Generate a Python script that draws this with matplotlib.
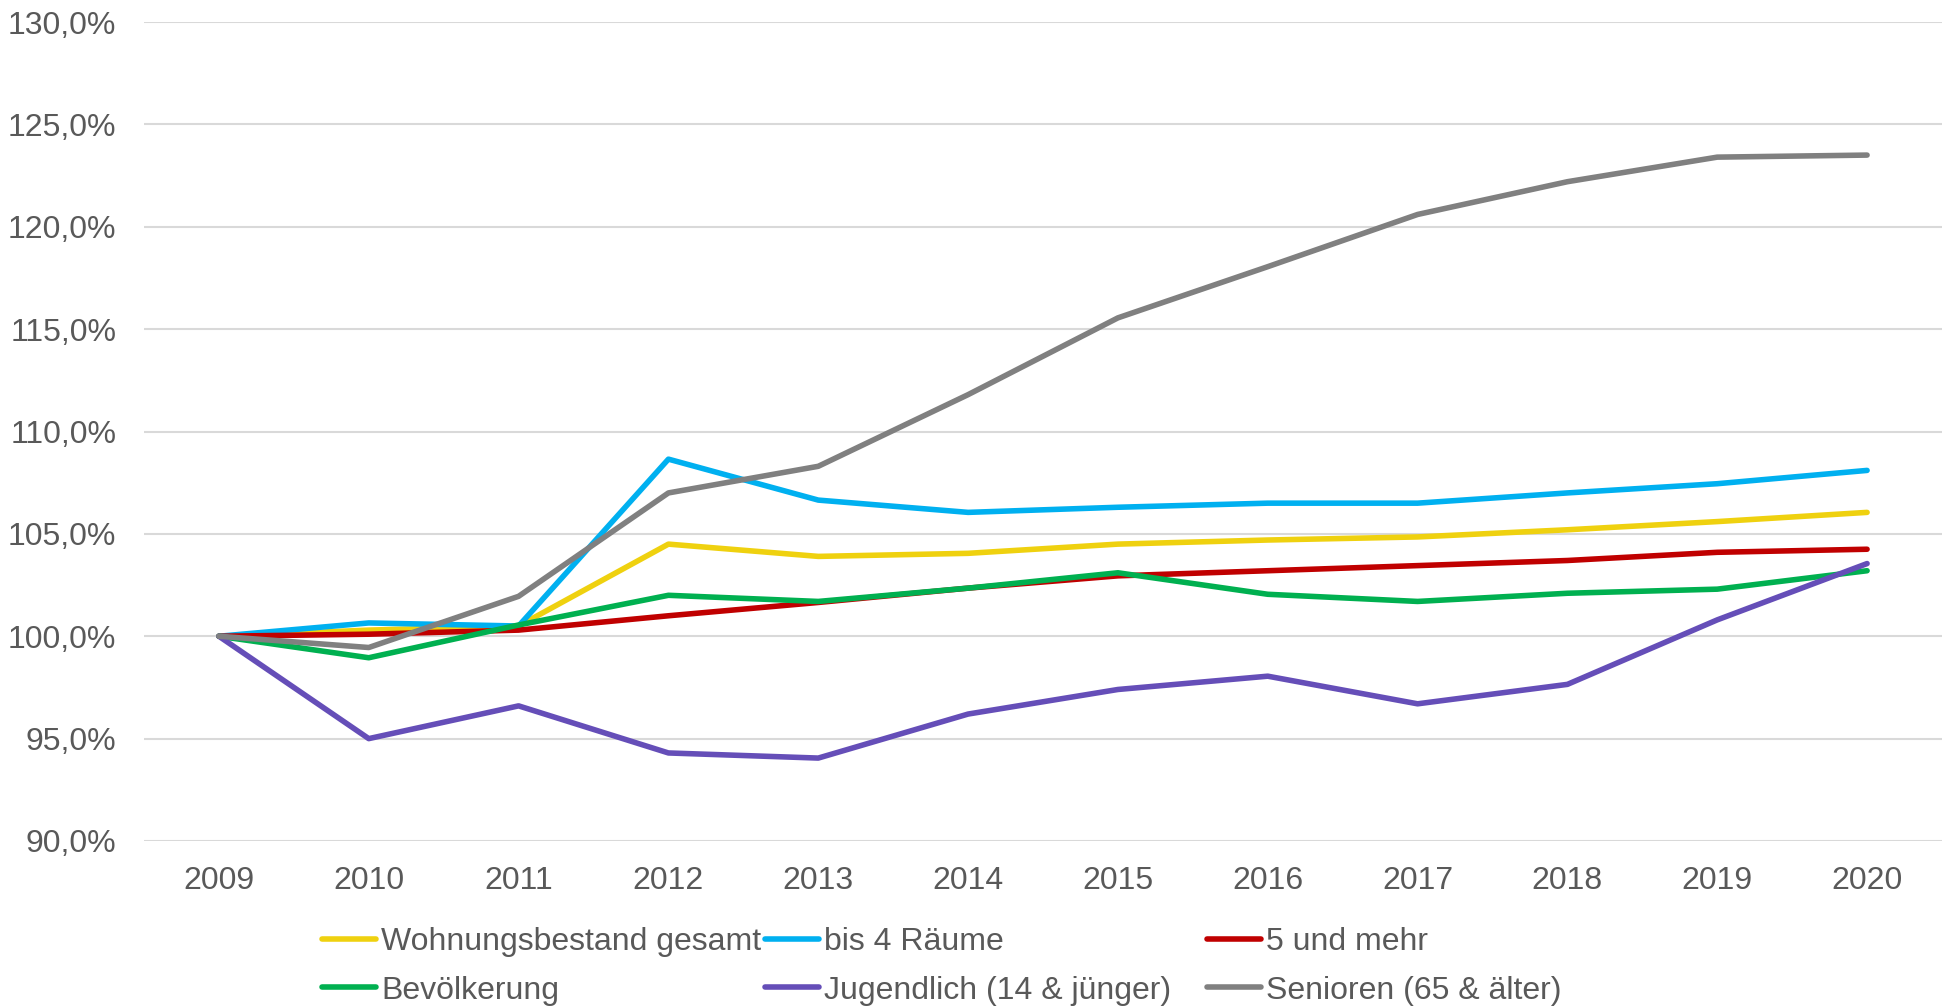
import numpy as np
import matplotlib.pyplot as plt
from matplotlib.ticker import FuncFormatter

plt.rcParams['font.family'] = ['Liberation Sans', 'DejaVu Sans']

#%% Data (index, 2009 = 100 %)
jahre = [2009, 2010, 2011, 2012, 2013, 2014, 2015, 2016, 2017, 2018, 2019, 2020]

wohnungsbestand = [100.0, 100.3, 100.5, 104.5, 103.9, 104.05, 104.5, 104.7, 104.85, 105.2, 105.6, 106.05]
bis_4_raeume = [100.0, 100.65, 100.5, 108.65, 106.65, 106.05, 106.3, 106.5, 106.5, 107.0, 107.45, 108.1]
fuenf_und_mehr = [100.0, 100.1, 100.3, 101.0, 101.65, 102.35, 102.95, 103.2, 103.45, 103.7, 104.1, 104.25]
bevoelkerung = [100.0, 98.95, 100.55, 102.0, 101.7, 102.35, 103.1, 102.05, 101.7, 102.1, 102.3, 103.2]
jugendlich = [100.0, 95.0, 96.6, 94.3, 94.05, 96.2, 97.4, 98.05, 96.7, 97.65, 100.8, 103.55]
senioren = [100.0, 99.45, 101.95, 107.0, 108.3, 111.8, 115.55, 118.05, 120.6, 122.2, 123.4, 123.5]

namen = ['Wohnungsbestand gesamt', 'bis 4 Räume', '5 und mehr',
         'Bevölkerung', 'Jugendlich (14 & jünger)', 'Senioren (65 & älter)']
reihen = [wohnungsbestand, bis_4_raeume, fuenf_und_mehr, bevoelkerung, jugendlich, senioren]
farben = ['#EFD10F', '#00B0F0', '#C00000', '#00B050', '#654EB8', '#808080']

#%% Plot
fs = 23
txt_col = '#595959'

fig = plt.figure(figsize=(19.46, 10.08), dpi=100)
ax = fig.add_axes([144/1946, 1 - 841/1008, 1798/1946, 819/1008])

handles = []
for werte, name, c in zip(reihen, namen, farben):
    h, = ax.plot(jahre, werte, color=c, lw=4.0, label=name,
                 solid_capstyle='round', solid_joinstyle='round')
    handles.append(h)

ax.set_xlim(2008.5, 2020.5)
ax.set_ylim(90, 130)
ax.set_xticks(jahre)
ax.set_yticks(np.arange(90, 131, 5))
ax.yaxis.set_major_formatter(FuncFormatter(lambda v, p: '{:.1f}%'.format(v).replace('.', ',')))

ax.grid(axis='y', color='#D9D9D9', lw=1.5)
ax.set_axisbelow(True)
for s in ax.spines.values():
    s.set_visible(False)
ax.tick_params(axis='both', length=0, labelsize=fs, labelcolor=txt_col)
ax.tick_params(axis='y', pad=20)
ax.tick_params(axis='x', pad=18)

# legend: three columns of two entries, fixed column positions like Excel
spalten_x = [322, 765, 1207]
for i, x0 in enumerate(spalten_x):
    leg = fig.legend([handles[i], handles[i + 3]], [namen[i], namen[i + 3]],
                     loc='upper left', bbox_to_anchor=(x0/1946, 1 - 927/1008),
                     frameon=False, fontsize=fs, handlelength=1.7, handletextpad=0.15,
                     labelspacing=0.58, borderpad=0, borderaxespad=0)
    for t in leg.get_texts():
        t.set_color(txt_col)

fig.savefig('out.png', dpi=100)
